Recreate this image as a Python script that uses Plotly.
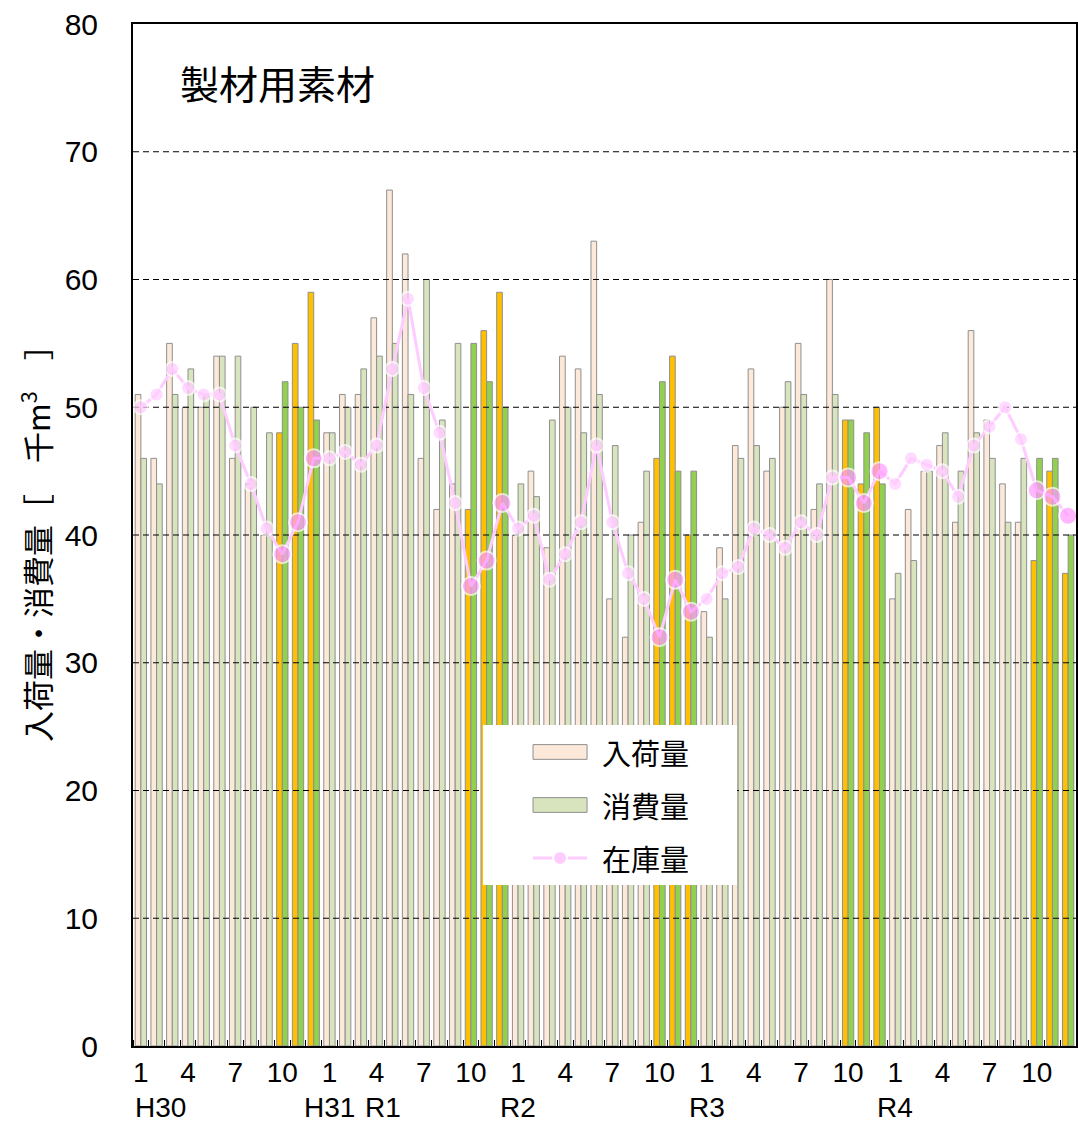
import plotly.graph_objects as go

# ---- data (H30.1 .. R4.12, monthly) ----
month_labels = ["1", "", "", "4", "", "", "7", "", "", "10", "", ""] * 5
era_labels = ["H30", "H31", "R1", "R2", "R3", "R4"]
era_index = [0, 12, 16, 24, 36, 48]

arrivals = [51, 46, 55, 50, 50, 54, 46, 44, 40, 48, 55, 59,
            48, 51, 51, 57, 67, 62, 46, 42, 44, 42, 56, 59,
            40, 45, 39, 54, 53, 63, 35, 32, 41, 46, 54, 40,
            34, 39, 47, 53, 45, 50, 55, 42, 60, 49, 44, 50,
            35, 42, 45, 47, 41, 56, 49, 44, 41, 38, 45, 37]
consumption = [46, 44, 51, 53, 51, 54, 54, 50, 48, 52, 50, 49,
               48, 50, 53, 54, 55, 51, 60, 49, 55, 55, 52, 50,
               44, 43, 49, 50, 48, 51, 47, 40, 45, 52, 45, 45,
               32, 35, 46, 47, 46, 52, 51, 44, 51, 49, 48, 44,
               37, 38, 45, 48, 45, 48, 46, 41, 46, 46, 46, 40]
stock = [50, 51, 53, 51.5, 51, 51, 47, 44, 40.5, 38.5, 41, 46,
         46, 46.5, 45.5, 47, 53, 58.5, 51.5, 48, 42.5, 36, 38, 42.5,
         40.5, 41.5, 36.5, 38.5, 41, 47, 41, 37, 35, 32, 36.5, 34,
         35, 37, 37.5, 40.5, 40, 39, 41, 40, 44.5, 44.5, 42.5, 45,
         44, 46, 45.5, 45, 43, 47, 48.5, 50, 47.5, 43.5, 43, 41.5]
y_ticks = [0, 10, 20, 30, 40, 50, 60, 70, 80]
series_names = ["入荷量", "消費量", "在庫量"]

n = len(arrivals)
x = list(range(n))
hl = [(i % 12) >= 9 for i in x]

C_ARR, C_ARR_H = "#FDE9D9", "#FFC000"
C_CON, C_CON_H = "#D7E4BD", "#92D050"
C_STK, C_STK_H = "#FFCCFF", "#FF99FF"
C_EDGE = "#8f8f8f"

arr_col = [C_ARR_H if h else C_ARR for h in hl]
con_col = [C_CON_H if h else C_CON for h in hl]
stk_col = [C_STK_H if h else C_STK for h in hl]
stk_size = [18 if h else 14 for h in hl]

CJK = "Noto Sans CJK JP"
NUM = "Arial, 'Liberation Sans', sans-serif"

fig = go.Figure()
fig.add_trace(go.Bar(
    x=x, y=arrivals, name=series_names[0], showlegend=False,
    marker=dict(color=arr_col, line=dict(color=C_EDGE, width=1)),
))
fig.add_trace(go.Bar(
    x=x, y=consumption, name=series_names[1], showlegend=False,
    marker=dict(color=con_col, line=dict(color=C_EDGE, width=1)),
))

# dashed gridlines drawn above the bars but below the stock line
gx, gy = [], []
for v in y_ticks[1:-1]:
    gx += [-0.5, n - 0.5, None]
    gy += [v, v, None]
fig.add_trace(go.Scatter(
    x=gx, y=gy, mode="lines", showlegend=False, hoverinfo="skip",
    line=dict(color="black", width=1, dash="6px,4px"),
))

fig.add_trace(go.Scatter(
    x=x, y=stock, name=series_names[2], mode="lines+markers", showlegend=False,
    line=dict(color=C_STK, width=3),
    marker=dict(color=stk_col, size=stk_size, line=dict(color="white", width=2)),
))

fig.update_layout(
    width=1078, height=1128,
    margin=dict(l=133, r=2, t=24, b=82, autoexpand=False),
    paper_bgcolor="white", plot_bgcolor="white",
    barmode="group", bargap=0.28, bargroupgap=0,
    showlegend=False,
    font=dict(family=NUM, color="black"),
)

fig.update_xaxes(
    range=[-0.5, n - 0.5], automargin=False,
    tickmode="array", tickvals=x, ticktext=month_labels,
    ticks="", tickfont=dict(family=NUM, size=28, color="black"),
    showgrid=False, zeroline=False,
    showline=True, linecolor="black", linewidth=2, mirror=True,
    minor=dict(tick0=-0.5, dtick=1, ticks="inside", ticklen=6,
               tickcolor="black", tickwidth=1, showgrid=False),
)
fig.update_yaxes(
    range=[0, 80], automargin=False, tickmode="array", tickvals=y_ticks,
    ticks="", ticklabelstandoff=27,
    tickfont=dict(family=NUM, size=30, color="black"),
    showgrid=False, zeroline=False,
    showline=True, linecolor="black", linewidth=2, mirror=True,
)

# era labels under the month labels
for lab, idx in zip(era_labels, era_index):
    fig.add_annotation(
        x=idx - 0.5 if lab == "H30" else idx, y=-0.06, xref="x", yref="paper",
        text=lab, showarrow=False,
        xanchor="left" if lab == "H30" else "center", yanchor="middle",
        xshift=-9 if lab == "R1" else 0,
        font=dict(family=NUM, size=28, color="black"))

# title inside plot
fig.add_annotation(x=0.0477, y=0.943, xref="paper", yref="paper",
                   text="製材用素材", showarrow=False, xanchor="left", yanchor="middle",
                   font=dict(family=CJK, size=39, color="black"))

# y-axis title
fig.add_annotation(x=-0.104, y=0.5, xref="paper", yref="paper",
                   text="入荷量・消費量［　千m<sup>3</sup>　］", textangle=-90,
                   showarrow=False, xanchor="center", yanchor="middle",
                   font=dict(family=CJK, size=31, color="black"))

# ---- legend box (drawn as paper-anchored shapes and texts) ----
LG_BOX = dict(x0=0.3712, x1=0.6405, y0=0.1575, y1=0.3141)
LG_SW_X = (0.4242, 0.4815)
LG_TXT_X = 0.4952
LG_ROWS = [0.2877, 0.2358, 0.1840]
SW_H = 0.0072

fig.add_shape(type="rect", xref="paper", yref="paper", layer="above",
              fillcolor="white", line=dict(width=0), **LG_BOX)
for row, col in zip(LG_ROWS[:2], [C_ARR, C_CON]):
    fig.add_shape(type="rect", xref="paper", yref="paper", layer="above",
                  x0=LG_SW_X[0], x1=LG_SW_X[1], y0=row - SW_H, y1=row + SW_H,
                  fillcolor=col, line=dict(color=C_EDGE, width=1))
fig.add_shape(type="line", xref="paper", yref="paper", layer="above",
              x0=LG_SW_X[0], x1=LG_SW_X[1], y0=LG_ROWS[2], y1=LG_ROWS[2],
              line=dict(color=C_STK, width=3))
fig.add_shape(type="circle", xref="paper", yref="paper", layer="above",
              xsizemode="pixel", ysizemode="pixel",
              xanchor=(LG_SW_X[0] + LG_SW_X[1]) / 2, yanchor=LG_ROWS[2],
              x0=-7, x1=7, y0=-7, y1=7,
              fillcolor=C_STK, line=dict(color="white", width=2))
for row, name in zip(LG_ROWS, series_names):
    fig.add_annotation(x=LG_TXT_X, y=row, xref="paper", yref="paper",
                       text=name, showarrow=False, xanchor="left", yanchor="middle",
                       font=dict(family=CJK, size=29, color="black"))

fig.write_html("out.html", config={"displayModeBar": False},
               post_script="document.body.style.margin='0';")
